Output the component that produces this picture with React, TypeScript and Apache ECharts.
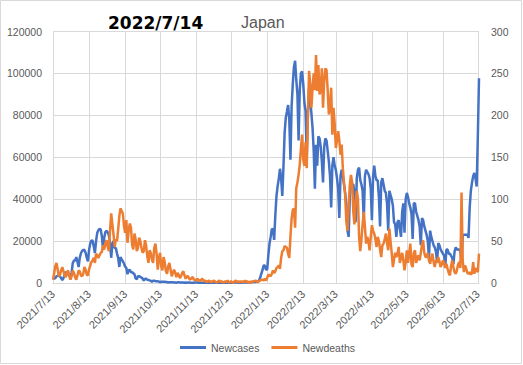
import React, { useEffect, useRef } from "react";
import * as echarts from "echarts";

// Tick labels shown on the category (date) axis
const tickLabels: string[] = [
  "2021/7/13", "2021/8/13", "2021/9/13", "2021/10/13", "2021/11/13", "2021/12/13",
  "2022/1/13", "2022/2/13", "2022/3/13", "2022/4/13", "2022/5/13", "2022/6/13", "2022/7/13",
];

// Daily new cases, 2021/7/13 .. 2022/7/14
const newCases: number[] = [
  2500, 2000, 2400, 3200, 3400, 3400, 3100,
  2330, 1391, 2340, 3758, 5393, 4225, 3995,
  3880, 2650, 5021, 9576, 10699, 10744, 12341,
  10168, 7623, 12017, 14207, 15263, 15753, 15812,
  14472, 12076, 10272, 15812, 18889, 20366, 20151,
  17484, 14308, 19955, 23917, 25156, 25876, 25492,
  22227, 15830, 21574, 24316, 24950, 24252, 22735,
  19287, 12037, 18532, 20018, 16735, 16746, 14084,
  12019, 7648, 12330, 11190, 10393, 9276, 7770,
  7223, 4172, 6061, 6240, 5140, 5083, 4636,
  4160, 2225, 1767, 3270, 3259, 2896, 2614,
  2132, 1147, 1989, 1969, 1593, 1440, 1242,
  1084, 600, 1128, 1128, 864, 800, 780,
  676, 350, 620, 545, 610, 600, 500,
  430, 230, 375, 388, 330, 330, 290,
  250, 153, 310, 300, 280, 280, 280,
  200, 86, 217, 160, 210, 190, 170,
  160, 100, 160, 200, 200, 190, 170,
  140, 70, 120, 150, 130, 140, 130,
  110, 50, 80, 110, 120, 120, 120,
  100, 80, 90, 130, 130, 120, 130,
  120, 70, 120, 150, 160, 140, 140,
  130, 80, 140, 180, 180, 150, 190,
  160, 110, 190, 250, 270, 280, 300,
  260, 200, 300, 400, 440, 500, 530,
  550, 780, 1100, 2600, 4470, 6200, 8480,
  8200, 6400, 6400, 13200, 18700, 22000, 25800,
  25600, 20600, 32200, 41500, 46200, 49800, 54500,
  50000, 41500, 55500, 71600, 78900, 81800, 84900,
  78000, 58800, 84200, 94900, 103000, 106000, 97000,
  90000, 68000, 92000, 100000, 101000, 95000, 86000,
  82000, 60000, 81000, 93000, 87000, 81000, 74000,
  63000, 45000, 66000, 56000, 70000, 69000, 65000,
  58000, 48000, 65000, 69000, 68000, 63000, 58000,
  51000, 36000, 56000, 60000, 56000, 54000, 50000,
  45000, 31000, 51000, 54000, 51000, 47000, 43000,
  38000, 25000, 22000, 41000, 48000, 47000, 47000,
  43000, 29000, 50000, 54000, 55000, 49000, 47000,
  44000, 30000, 51000, 54000, 53000, 52000, 50000,
  45000, 30000, 51000, 56000, 51000, 49000, 49000,
  41000, 27000, 48000, 50000, 47000, 44000, 43000,
  38000, 25000, 44000, 42000, 40000, 37000, 29000,
  28000, 22000, 29000, 30000, 26000, 22000, 34000,
  38000, 24000, 40000, 43000, 41000, 38000, 36000,
  33000, 21000, 38000, 38000, 34000, 32000, 30000,
  27000, 18000, 31000, 30000, 27000, 25000, 23000,
  20000, 12000, 25000, 22000, 20000, 18000, 17000,
  15000, 10000, 19000, 18000, 16000, 15000, 14000,
  13000, 8000, 16000, 16000, 14000, 14000, 13000,
  12000, 9000, 15000, 17000, 16000, 16000, 16000,
  15000, 11000, 22500, 23000, 23000, 23000, 23000,
  21500, 36000, 44000, 48000, 51000, 52500, 50000,
  46000, 70000, 97700,
];

// Daily new deaths, 2021/7/13 .. 2022/7/14
const newDeaths: number[] = [
  4, 12, 20, 24, 16, 8, 10,
  15, 19, 14, 9, 7, 13, 15,
  8, 4, 8, 15, 12, 7, 4,
  9, 15, 14, 9, 8, 11, 19,
  16, 10, 9, 16, 21, 25, 27,
  30, 24, 35, 33, 30, 33, 36,
  37, 45, 40, 48, 51, 43, 38,
  62, 83, 70, 58, 43, 52, 50,
  64, 80, 89, 86, 83, 68, 60,
  75, 48, 62, 71, 66, 45, 40,
  59, 52, 38, 42, 54, 50, 42,
  36, 38, 51, 45, 32, 24, 39,
  36, 28, 24, 42, 47, 35, 16,
  30, 36, 20, 15, 31, 25, 14,
  11, 20, 24, 16, 8, 12, 16,
  12, 7, 12, 10, 6, 8, 12,
  14, 9, 5, 8, 8, 5, 4,
  6, 7, 4, 4, 3, 5, 4,
  2, 3, 5, 4, 2, 3, 1,
  2, 3, 1, 2, 1, 3, 2,
  1, 1, 2, 3, 1, 2, 1,
  1, 2, 1, 3, 1, 1, 2,
  1, 0, 2, 3, 1, 2, 1,
  2, 1, 2, 1, 3, 1, 2,
  1, 0, 2, 1, 2, 2, 3,
  2, 1, 2, 3, 4, 4, 3,
  5, 3, 6, 10, 9, 8, 11,
  15, 12, 14, 18, 19, 21, 17,
  30, 38, 39, 44, 43, 42, 35,
  30, 55, 77, 87, 89, 66, 113,
  120, 129, 141, 160, 177, 147, 140,
  168, 137, 200, 253, 237, 209, 233,
  250, 230, 272, 229, 260, 225, 230,
  256, 209, 240, 256, 254, 230, 201,
  210, 233, 177, 209, 190, 161, 170,
  181, 170, 153, 165, 137, 120, 105,
  74, 62, 90, 117, 129, 120, 85,
  70, 98, 110, 100, 54, 38, 52,
  70, 85, 67, 47, 55, 50, 39,
  55, 69, 62, 59, 52, 43, 55,
  50, 40, 31, 45, 47, 52, 59,
  48, 39, 65, 50, 36, 19, 28,
  36, 31, 35, 43, 24, 30, 36,
  27, 15, 25, 39, 24, 35, 47,
  22, 19, 36, 39, 24, 30, 33,
  27, 36, 45, 51, 36, 31, 31,
  36, 27, 23, 30, 35, 25, 19,
  27, 24, 31, 26, 19, 22, 27,
  24, 18, 23, 17, 12, 9, 20,
  27, 19, 13, 11, 15, 22, 25,
  18, 108, 27, 13, 21, 17, 12,
  11, 13, 10, 12, 25, 11, 18,
  15, 13, 35,
];

const seriesNames = ["Newcases", "Newdeaths"];
const seriesColors = ["#4472C4", "#ED7D31"];
const titleText = "2022/7/14";
const subTitleText = "Japan";

function buildDates(n: number): string[] {
  const out: string[] = [];
  const d = new Date(Date.UTC(2021, 6, 13));
  for (let i = 0; i < n; i++) {
    out.push(`${d.getUTCFullYear()}/${d.getUTCMonth() + 1}/${d.getUTCDate()}`);
    d.setUTCDate(d.getUTCDate() + 1);
  }
  return out;
}

export default function App() {
  const ref = useRef<HTMLDivElement>(null);

  useEffect(() => {
    if (!ref.current) return;
    const chart = echarts.init(ref.current, undefined, { renderer: "svg" });
    const dates = buildDates(newCases.length);
    const tickSet = new Set(tickLabels);
    const gray = "#595959";
    const gridColor = "#d9d9d9";
    const font = "'Liberation Sans', Arial, sans-serif";

    chart.setOption({
      animation: false,
      textStyle: { fontFamily: font },
      grid: { left: 53, right: 44, top: 31.5, bottom: 82, containLabel: false },
      legend: {
        data: seriesNames,
        left: 175,
        top: 337,
        icon: "rect",
        itemWidth: 26,
        itemHeight: 3,
        itemGap: 12,
        textStyle: { color: gray, fontSize: 10.5, fontFamily: font },
      },
      xAxis: {
        type: "category",
        data: dates,
        boundaryGap: false,
        axisLine: { lineStyle: { color: gridColor } },
        axisTick: { show: false },
        axisLabel: {
          interval: (_i: number, v: string) => tickSet.has(v),
          rotate: 45,
          color: gray,
          fontSize: 11,
          margin: 9,
        },
        splitLine: {
          show: true,
          interval: (_i: number, v: string) => tickSet.has(v),
          lineStyle: { color: gridColor, width: 1 },
        },
      },
      yAxis: [
        {
          type: "value",
          min: 0,
          max: 120000,
          interval: 20000,
          axisLine: { show: false },
          axisTick: { show: false },
          axisLabel: { color: gray, fontSize: 10.5, margin: 11, formatter: (v: number) => String(v) },
          splitLine: { lineStyle: { color: gridColor, width: 1 } },
        },
        {
          type: "value",
          min: 0,
          max: 300,
          interval: 50,
          position: "right",
          axisLine: { show: false },
          axisTick: { show: false },
          axisLabel: { color: gray, fontSize: 10.5, margin: 12, formatter: (v: number) => String(v) },
          splitLine: { show: false },
        },
      ],
      series: [
        {
          name: seriesNames[0],
          type: "line",
          yAxisIndex: 0,
          data: newCases,
          showSymbol: false,
          symbol: "none",
          lineStyle: { color: seriesColors[0], width: 2.5 },
          itemStyle: { color: seriesColors[0] },
        },
        {
          name: seriesNames[1],
          type: "line",
          yAxisIndex: 1,
          data: newDeaths,
          showSymbol: false,
          symbol: "none",
          lineStyle: { color: seriesColors[1], width: 2.5 },
          itemStyle: { color: seriesColors[1] },
        },
      ],
      graphic: [
        {
          type: "rect",
          shape: { x: 0.5, y: 0.5, width: 521, height: 363 },
          style: { fill: "none", stroke: gridColor, lineWidth: 1 },
          silent: true,
        },
        {
          type: "text",
          x: 108,
          y: 22.5,
          style: {
            text: titleText,
            fill: "#000000",
            font: "bold 17px 'DejaVu Sans', sans-serif",
            verticalAlign: "middle",
          },
        },
        {
          type: "text",
          x: 241,
          y: 22.5,
          style: {
            text: subTitleText,
            fill: gray,
            font: "16px 'Liberation Sans', Arial, sans-serif",
            verticalAlign: "middle",
          },
        },
      ],
    });

    return () => chart.dispose();
  }, []);

  return (
    <div
      ref={ref}
      style={{ position: "absolute", left: 0, top: 0, width: 523, height: 365, background: "#ffffff" }}
    />
  );
}
